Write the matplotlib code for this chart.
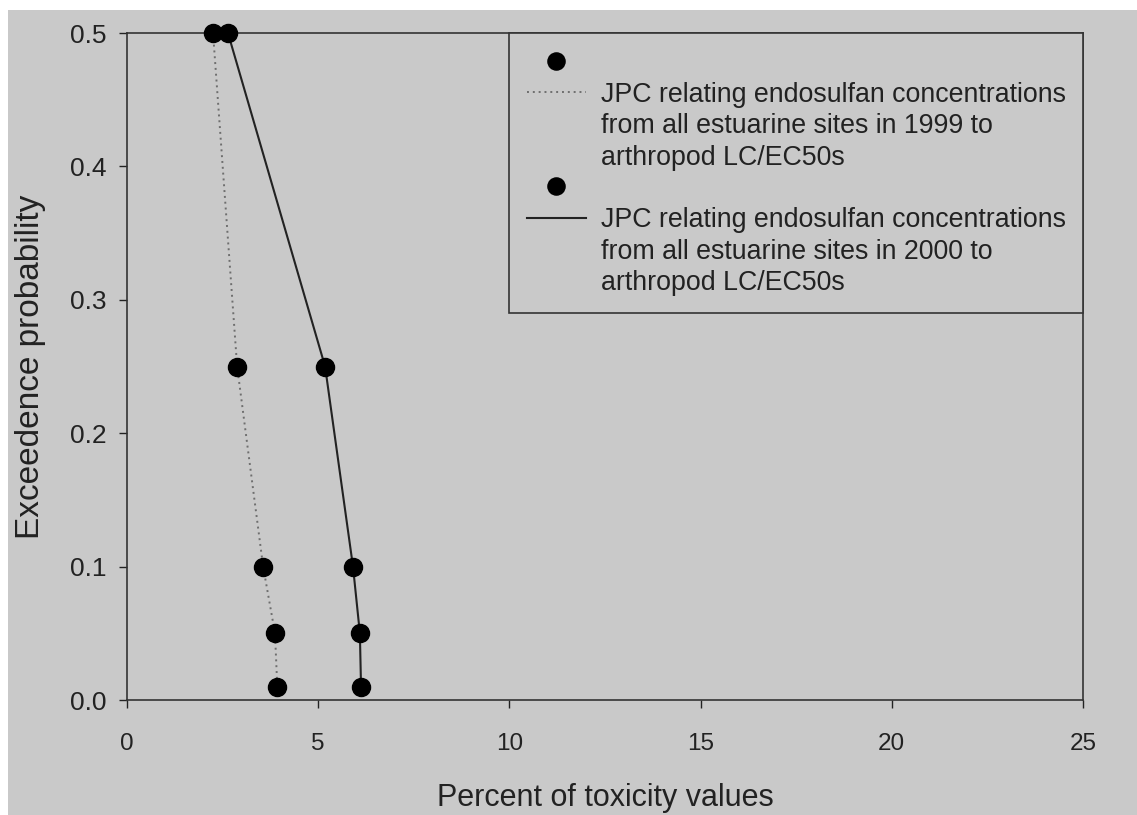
import matplotlib.pyplot as plt
from matplotlib.lines import Line2D
from matplotlib.patches import Rectangle

plt.rcParams['font.family'] = ['Liberation Sans', 'DejaVu Sans']

# exceedence probability levels
prob = [0.5, 0.25, 0.1, 0.05, 0.01]

# percent of toxicity values
pct_1999 = [2.25, 2.88, 3.56, 3.87, 3.93]
pct_2000 = [2.64, 5.18, 5.91, 6.09, 6.12]

lines_1999 = ['JPC relating endosulfan concentrations',
              'from all estuarine sites in 1999 to',
              'arthropod LC/EC50s']
lines_2000 = ['JPC relating endosulfan concentrations',
              'from all estuarine sites in 2000 to',
              'arthropod LC/EC50s']

bg = '#c9c9c9'
ink = '#222222'

fig = plt.figure(figsize=(11.37, 8.15), dpi=100, facecolor='white')
# scanned page area (white margin on top and left)
fig.patches.append(Rectangle((8 / 1137, 0), 1, 1 - 10 / 815,
                             transform=fig.transFigure, facecolor=bg,
                             edgecolor='none', zorder=-10))
ax = fig.add_axes([0.1117, 0.1411, 0.8408, 0.8184], facecolor=bg)

l1, = ax.plot(pct_1999, prob, linestyle=(0, (1, 2)), color='#6e6e6e', lw=1.4)
m1, = ax.plot(pct_1999, prob, 'o', color='black', ms=13, linestyle='none',
              clip_on=False, zorder=5)
l2, = ax.plot(pct_2000, prob, '-', color=ink, lw=1.5)
m2, = ax.plot(pct_2000, prob, 'o', color='black', ms=13, linestyle='none',
              clip_on=False, zorder=5)

ax.set_xlim(0, 25)
ax.set_ylim(0, 0.5)
ax.set_xticks([0, 5, 10, 15, 20, 25])
ax.set_yticks([0.0, 0.1, 0.2, 0.3, 0.4, 0.5])
ax.set_yticklabels(['0.0', '0.1', '0.2', '0.3', '0.4', '0.5'])
ax.tick_params(direction='out', length=6, width=1, colors=ink)
ax.tick_params(axis='x', labelsize=17.5, pad=18)
ax.tick_params(axis='y', labelsize=19, pad=9)
for s in ax.spines.values():
    s.set_color('#333333')
    s.set_linewidth(1.2)

ax.set_xlabel('Percent of toxicity values', fontsize=22, labelpad=20,
              color=ink)
ax.set_ylabel('Exceedence probability', fontsize=24, labelpad=17,
              color=ink)

blank = Line2D([], [], linestyle='none')
handles = [m1, l1, blank, blank, m2, l2, blank, blank]
labels = [' ', lines_1999[0], lines_1999[1], lines_1999[2],
          ' ', lines_2000[0], lines_2000[1], lines_2000[2]]
leg = ax.legend(handles, labels, loc='upper right', borderaxespad=0,
                fontsize=19.3, frameon=True, fancybox=False,
                handlelength=2.2, handletextpad=0.55, borderpad=0.65,
                labelspacing=0.2, markerscale=0.95)
leg.get_frame().set_facecolor(bg)
leg.get_frame().set_edgecolor('#333333')
leg.get_frame().set_linewidth(1.2)
leg.get_frame().set_alpha(1)
for t in leg.get_texts():
    t.set_color(ink)

fig.savefig('out.png', dpi=100, facecolor='white')
